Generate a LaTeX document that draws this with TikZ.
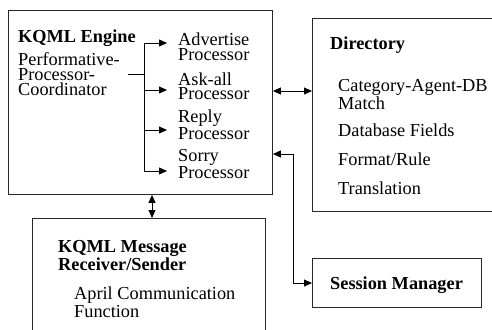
\documentclass[tikz,border=0pt]{standalone}
\usepackage{fontspec}
\setmainfont{Liberation Serif}
\usetikzlibrary{arrows.meta}
\begin{document}
\begin{tikzpicture}[x=1pt,y=-1pt,
  box/.style={draw=black!85,line width=0.9pt,inner sep=0pt,anchor=north west},
  txt/.style={inner sep=0pt,anchor=base west,align=left,
    font=\fontsize{18.3}{14.5}\selectfont},
  head/.style={txt,font=\fontsize{18.3}{14.5}\selectfont\bfseries},
  wire/.style={draw=black,line width=0.8pt},
  arr/.style={wire,-{Triangle[length=8pt,width=7pt]}},
  darr/.style={wire,{Triangle[length=8pt,width=7pt]}-{Triangle[length=8pt,width=7pt]}}]
\useasboundingbox (0,0) rectangle (492,329);

% boxes
\node[box,minimum width=264pt,minimum height=184pt] (engine) at (8,10) {};
\node[box,minimum width=200pt,minimum height=193pt] (dir) at (312,18) {};
\node[box,minimum width=169pt,minimum height=49pt] (session) at (312,258) {};
\node[box,minimum width=233pt,minimum height=130pt] (msg) at (32,218) {};

% engine contents (multi-line texts are placed by their last baseline)
\node[head] (eng) at (18,43) {KQML Engine};
\node[txt] (ppc) at (18,95) {Performative-\\Processor-\\Coordinator};
\node[txt] (adv) at (178,60) {Advertise\\Processor};
\node[txt] (ask) at (178,99.5) {Ask-all\\Processor};
\node[txt] (rep) at (178,139) {Reply\\Processor};
\node[txt] (sor) at (178,178.5) {Sorry\\Processor};

% directory contents
\node[head] (dirt) at (330,50) {Directory};
\node[txt] (cat) at (338,109) {Category-Agent-DB\\Match};
\node[txt] (dbf) at (338,136) {Database Fields};
\node[txt] (fmt) at (338,165) {Format/Rule};
\node[txt] (trn) at (338,194) {Translation};

% message receiver/sender contents
\node[head] (msgt) at (58,270) {KQML Message\\Receiver/Sender};
\node[txt] (apr) at (74,317) {April Communication\\Function};

% session manager
\node[head] (sest) at (330,289) {Session Manager};

% dispatch bus inside the engine
\coordinate (src) at (128,74);
\coordinate (bus) at (144,74);
\coordinate (b1) at (144,43);
\coordinate (b2) at (144,90);
\coordinate (b3) at (144,130);
\coordinate (b4) at (144,171);
\draw[wire] (src) -- (bus);
\draw[wire] (b1) -- (b4);
\draw[arr] (b1) -- ++(23,0);
\draw[arr] (b2) -- ++(23,0);
\draw[arr] (b3) -- ++(23,0);
\draw[arr] (b4) -- ++(23,0);

% links between components
\draw[darr] (engine.east |- 0,91) -- (dir.west |- 0,91);
\draw[darr] (engine.south -| 152,0) -- (msg.north -| 152,0);
\draw[darr] (engine.east |- 0,154) -- (293,154) -- (293,283) -- (session.west |- 0,283);
\end{tikzpicture}
\end{document}
